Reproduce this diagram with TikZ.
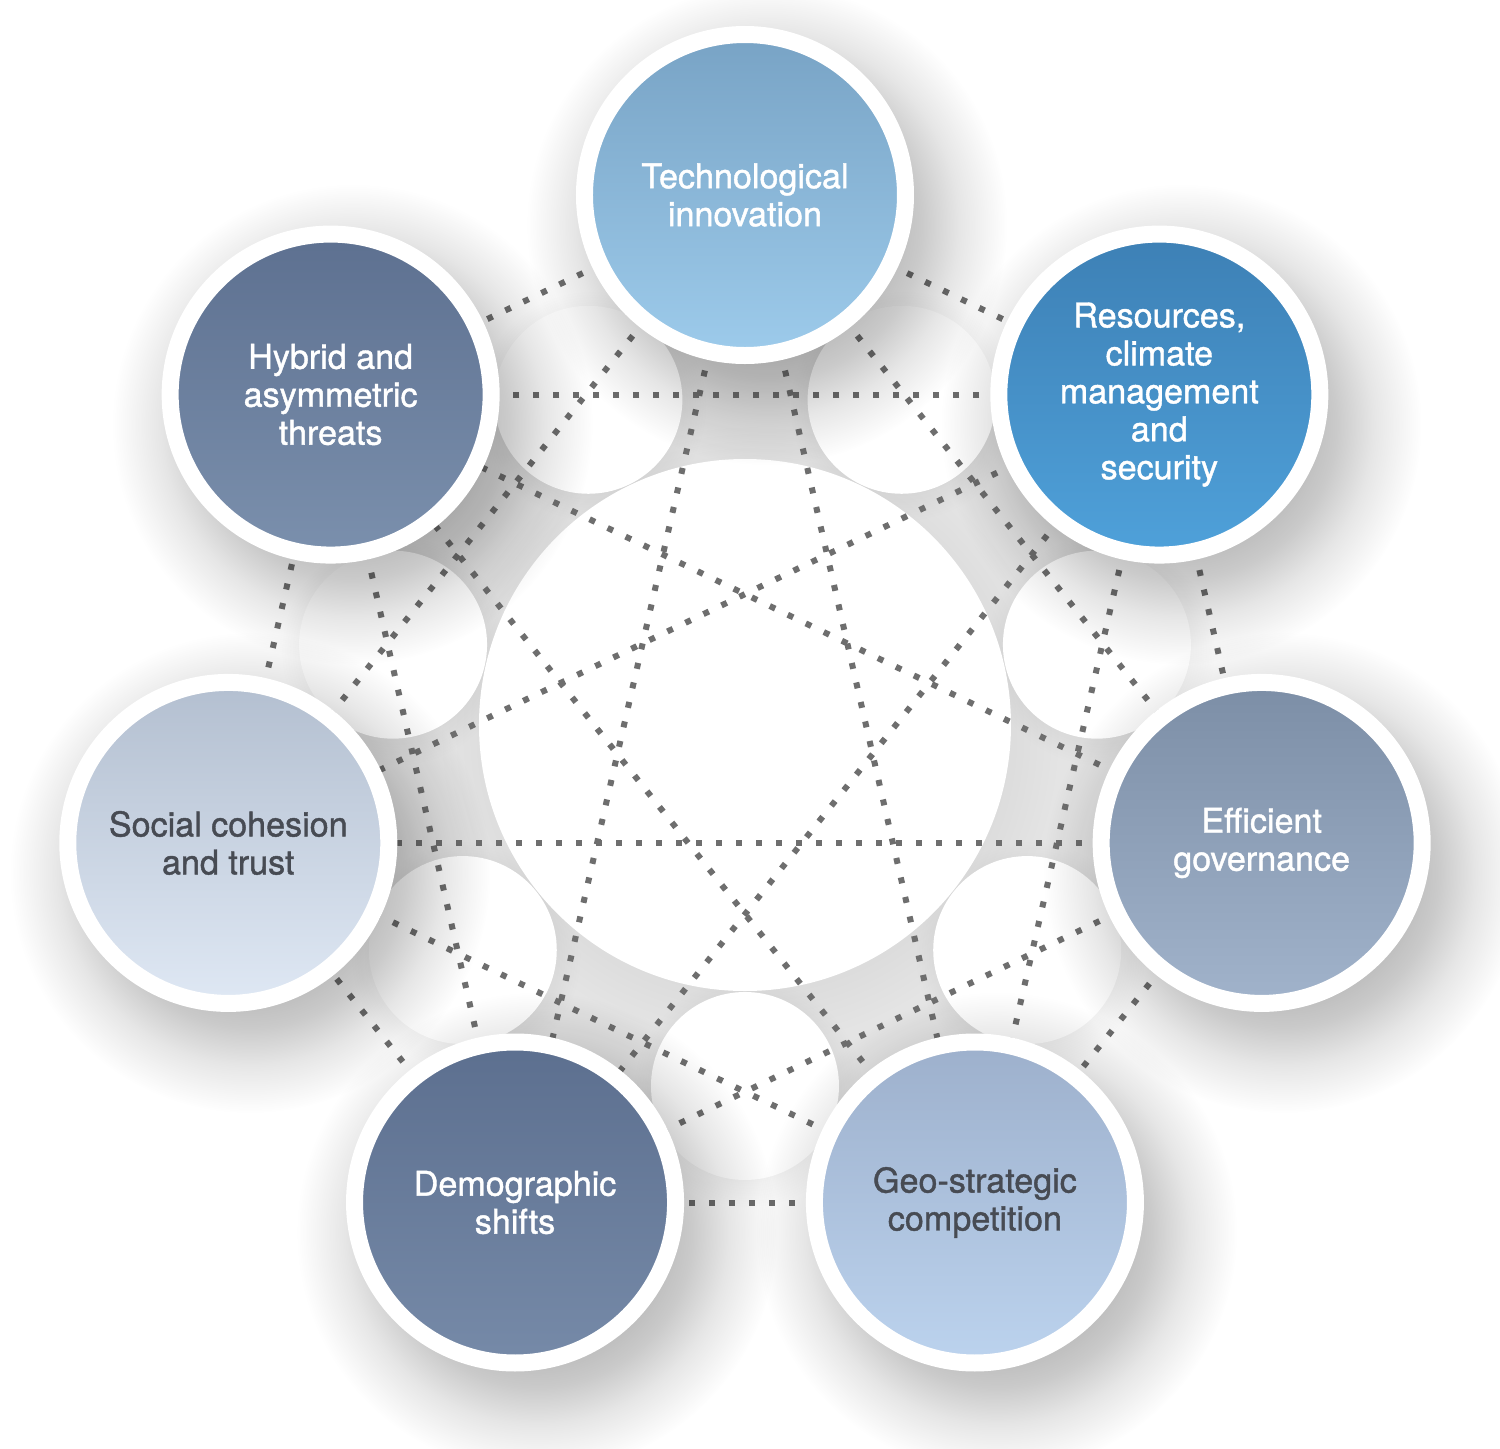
\documentclass[tikz,border=0pt]{standalone}
\usepackage{fontspec}
\setmainfont{TeX Gyre Heros}
\newfontfamily\themefont[FakeBold=1.2]{TeX Gyre Heros}
\usetikzlibrary{fadings}

\definecolor{techA}{HTML}{78A3C5}
\definecolor{techB}{HTML}{9DCBEB}
\definecolor{resA}{HTML}{3D80B5}
\definecolor{resB}{HTML}{4FA1DA}
\definecolor{govA}{HTML}{7C8EA6}
\definecolor{govB}{HTML}{A1B3CB}
\definecolor{geoA}{HTML}{9DB0CC}
\definecolor{geoB}{HTML}{BCD3EE}
\definecolor{demoA}{HTML}{5C6F8F}
\definecolor{demoB}{HTML}{768AA8}
\definecolor{socA}{HTML}{B3BFD0}
\definecolor{socB}{HTML}{DFE8F4}
\definecolor{hybA}{HTML}{5D7090}
\definecolor{hybB}{HTML}{7B90AD}
\definecolor{linkgray}{HTML}{6E6E6E}
\definecolor{textgray}{HTML}{474B53}

% soft edged disc, used for the shadows
\pgfdeclareradialshading{softmask}{\pgfpointorigin}{color(0bp)=(white); color(12bp)=(white);
  color(16bp)=(white!75!black); color(20bp)=(white!35!black); color(25bp)=(black); color(50bp)=(black)}
\pgfdeclarefading{softfade}{\pgfuseshading{softmask}}

\pgfdeclarelayer{bg}
\pgfdeclarelayer{links}
\pgfsetlayers{bg,links,main}

\begin{document}
\begin{tikzpicture}[
  theme/.style={circle, minimum size=3.21cm, draw=white, line width=0.17cm,
    align=center, font=\themefont\fontsize{9.7}{10.8}\selectfont, shading angle=45},
  themeshadow/.style={fill=black, opacity=0.28, path fading=softfade},
  holeshadow/.style={fill=black, opacity=0.1, path fading=softfade},
  link/.style={draw=linkgray, line width=0.06cm, dash pattern=on 0.06cm off 0.14cm}
]
\useasboundingbox (-7.45,-7.23) rectangle (7.55,7.25);

% the seven themes
\foreach \name/\k/\ca/\cb/\tc/\txt in {
    tech/0/techA/techB/white/{Technological\\innovation},
    resources/1/resA/resB/white/{Resources,\\climate\\management\\and\\security},
    governance/2/govA/govB/white/{Efficient\\governance},
    geo/3/geoA/geoB/textgray/{Geo-strategic\\competition},
    demographic/4/demoA/demoB/white/{Demographic\\shifts},
    social/5/socA/socB/textgray/{Social cohesion\\and trust},
    hybrid/6/hybA/hybB/white/{Hybrid and\\asymmetric\\threats}} {
  \fill[themeshadow, shift={(90-51.4286*\k:5.3)}] (0.22,-0.3) circle (2.4);
  \node[theme, top color=\ca, bottom color=\cb, text=\tc] (\name) at (90-51.4286*\k:5.3) {\txt};
}

% grey field with white holes
\begin{pgfonlayer}{bg}
  \fill[white] (-7.45,-7.23) rectangle (7.55,7.25);
  \fill[gray!21] (0,0) circle (4.2);
  \foreach \k in {0,...,6}
    \fill[holeshadow, shift={(64.2857-51.4286*\k:3.61)}] (0.03,-0.06) circle (1.15);
  \fill[holeshadow] (0.05,-0.1) circle (3.1);
  \foreach \k in {0,...,6}
    \fill[white] (64.2857-51.4286*\k:3.61) circle (0.94);
  \fill[white] (0,0) circle (2.66);
\end{pgfonlayer}

% every theme linked to every other
\begin{pgfonlayer}{links}
  \foreach \a [count=\i] in {tech,resources,governance,geo,demographic,social,hybrid} {
    \foreach \b [count=\j] in {tech,resources,governance,geo,demographic,social,hybrid} {
      \ifnum\j>\i \draw[link] (\a.center) -- (\b.center); \fi
    }
  }
\end{pgfonlayer}
\end{tikzpicture}
\end{document}
